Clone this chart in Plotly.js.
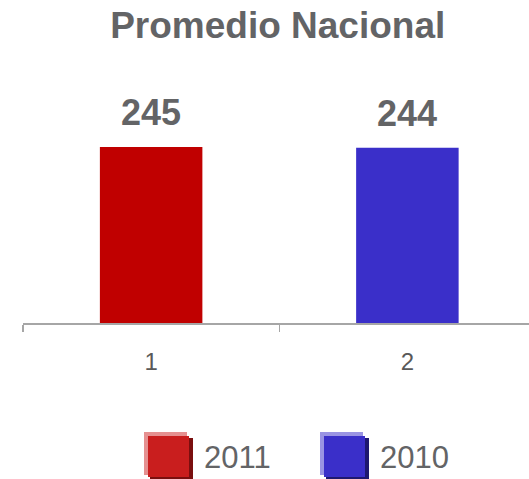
<!DOCTYPE html>
<html>
<head>
<meta charset="utf-8">
<script src="https://cdn.plot.ly/plotly-3.0.1.min.js"></script>
<style>html,body{margin:0;padding:0;background:#fff;}#chart{width:529px;height:479px;}</style>
</head>
<body>
<div id="chart"></div>
<script>
const categories = ["1", "2"];
const seriesNames = ["2011", "2010"];
const values2011 = [245];
const values2010 = [244];
const seriesColors = ["#c00000", "#3a2fc9"];
const legendMain = ["#c91e1e", "#3a2fc9"];
const legendLight = ["#e59090", "#9a94e3"];
const legendDark = ["#7a0f0f", "#1e1870"];

const W = 529, H = 479;
const mL = 23, mR = 0, mT = 80, mB = 156;
const pw = W - mL - mR, ph = H - mT - mB;
const px = x => (x - mL) / pw;
const py = y => (H - mB - y) / ph;

const traces = [
  {type: "bar", name: seriesNames[0], x: [categories[0]], y: values2011, width: 0.4,
   marker: {color: seriesColors[0]}, hoverinfo: "none", showlegend: false},
  {type: "bar", name: seriesNames[1], x: [categories[1]], y: values2010, width: 0.4,
   marker: {color: seriesColors[1]}, hoverinfo: "none", showlegend: false}
];

const font = "Liberation Sans, Arial, sans-serif";
const annotations = [];
[values2011[0], values2010[0]].forEach((v, i) => {
  annotations.push({x: i, y: v, xref: "x", yref: "y", text: "<b>" + v + "</b>", showarrow: false,
    yanchor: "bottom", yshift: 12, font: {family: font, size: 36, color: "#636466"}});
});

const shapes = [];
const legendX = [144, 320];
for (let i = 0; i < 2; i++) {
  const lx = legendX[i];
  shapes.push({type: "rect", xref: "paper", yref: "paper", x0: px(lx), x1: px(lx + 43), y0: py(475), y1: py(432),
    fillcolor: legendLight[i], line: {width: 0}});
  shapes.push({type: "rect", xref: "paper", yref: "paper", x0: px(lx + 6), x1: px(lx + 49), y0: py(479), y1: py(438),
    fillcolor: legendDark[i], line: {width: 0}});
  shapes.push({type: "rect", xref: "paper", yref: "paper", x0: px(lx + 4), x1: px(lx + 45), y0: py(477), y1: py(436),
    fillcolor: legendMain[i], line: {width: 0}});
  annotations.push({xref: "paper", yref: "paper", x: px(lx + 58), y: py(457), xanchor: "left", yanchor: "middle",
    text: seriesNames[i], showarrow: false, font: {family: font, size: 31, color: "#636466"}});
}

const layout = {
  width: W, height: H,
  margin: {l: mL, r: mR, t: mT, b: mB},
  paper_bgcolor: "#ffffff", plot_bgcolor: "#ffffff",
  title: {text: "<b>Promedio Nacional</b>", x: 0.525, xanchor: "center", y: 1 - 25 / H, yanchor: "middle",
    font: {family: font, size: 37, color: "#636466"}},
  barmode: "overlay",
  showlegend: false,
  xaxis: {type: "category", categoryarray: categories, range: [-0.5, 1.4746],
    showline: true, linecolor: "#a6a6a6", linewidth: 1.5,
    ticks: "outside", tickson: "boundaries", ticklen: 7, tickcolor: "#a6a6a6", tickwidth: 1.5,
    showgrid: false, zeroline: false, ticklabelstandoff: 17,
    tickfont: {family: font, size: 24, color: "#595959"}},
  yaxis: {range: [0, 338.3], visible: false, showgrid: false, zeroline: false},
  annotations: annotations,
  shapes: shapes
};

Plotly.newPlot("chart", traces, layout, {displayModeBar: false, staticPlot: true});
</script>
</body>
</html>
